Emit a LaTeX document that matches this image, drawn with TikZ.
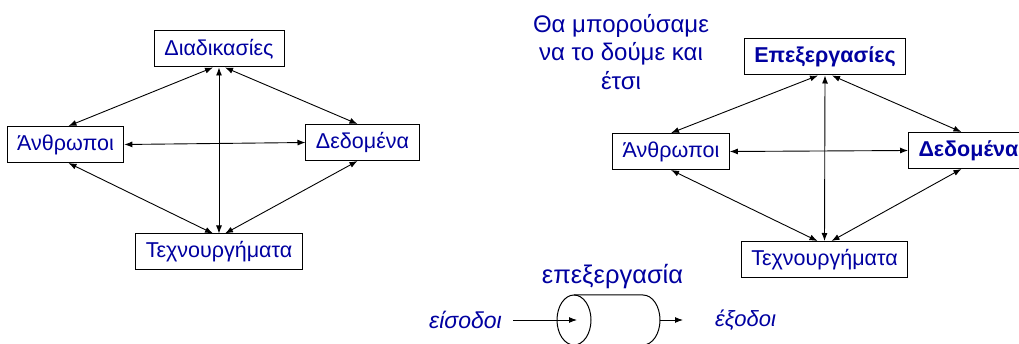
\documentclass[tikz,border=0pt]{standalone}
\usepackage{fontspec}
\setmainfont{Liberation Sans}
\usetikzlibrary{arrows.meta}
\definecolor{textblue}{RGB}{0,0,160}

\begin{document}
\begin{tikzpicture}[x=1pt,y=-1pt,
        box/.style={draw,line width=1pt,text=textblue,inner xsep=10pt,
            minimum height=36pt,font=\fontsize{21.5}{26}\selectfont},
        boldbox/.style={box,font=\fontsize{21.5}{26}\selectfont\bfseries},
        flow/.style={line width=1pt,-{Latex[length=8pt,width=6pt]}},
        every edge/.style={draw,line width=0.9pt,
            {Latex[length=8pt,width=6pt]}-{Latex[length=8pt,width=6pt]}}]
    \path[use as bounding box,clip] (0,0) rectangle (1019,344);

    % first view
    \node[box,minimum width=130pt] (dia) at (219,49) {Διαδικασίες};
    \node[box] (anth) at (65.5,144.5) {Άνθρωποι};
    \node[box] (ded) at (362.5,142.5) {Δεδομένα};
    \node[box] (tech) at (219,252) {Τεχνουργήματα};

    \path ([xshift=-6]dia.south) edge ([xshift=3]anth.north);
    \path ([xshift=6]dia.south) edge ([xshift=-5]ded.north);
    \path (dia.south) edge (tech.north);
    \path (anth.east) edge (ded.west);
    \path ([xshift=3]anth.south) edge ([xshift=-6]tech.north);
    \path ([xshift=-5]ded.south) edge ([xshift=6]tech.north);

    % second view
    \node[text=textblue,align=center,font=\fontsize{24}{28.7}\selectfont]
        (note) at (621,52) {Θα μπορούσαμε\\να το δούμε και\\έτσι};
    \node[boldbox] (epe) at (825,57) {Επεξεργασίες};
    \node[box] (anth2) at (671,151.5) {Άνθρωποι};
    \node[boldbox,anchor=west] (ded2) at (908,150.5) {Δεδομένα};
    \node[box] (tech2) at (824.5,259.5) {Τεχνουργήματα};

    \path ([xshift=-7]epe.south) edge (anth2.north);
    \path ([xshift=7]epe.south) edge ([xshift=-7]ded2.north);
    \path (epe.south) edge (tech2.north);
    \path (anth2.east) edge (ded2.west);
    \path (anth2.south) edge ([xshift=-7]tech2.north);
    \path ([xshift=-7]ded2.south) edge ([xshift=7]tech2.north);

    % process
    \node[text=textblue,font=\fontsize{25.5}{30}\selectfont] (proc) at (612.5,277) {επεξεργασία};
    \draw[line width=1pt] (574,320) ellipse [x radius=17pt, y radius=25pt];
    \draw[line width=1pt] (574,295) -- (643,295)
        .. controls (652.4,295) and (660,306.2) .. (660,320)
        .. controls (660,333.8) and (652.4,345) .. (643,345) -- (574,345);
    \coordinate (cylc) at (577,320);
    \coordinate (cylr) at (660,320);
    \node[text=textblue,font=\fontsize{23}{28}\selectfont\itshape,
        anchor=east,inner xsep=11pt] (ins) at (513,320) {είσοδοι};
    \node[text=textblue,font=\fontsize{22}{27}\selectfont\itshape,
        anchor=west,inner xsep=32pt] (outs) at (683,320) {έξοδοι};
    \draw[flow] (ins) -- (cylc);
    \draw[flow] (cylr) -- (outs);
\end{tikzpicture}
\end{document}
